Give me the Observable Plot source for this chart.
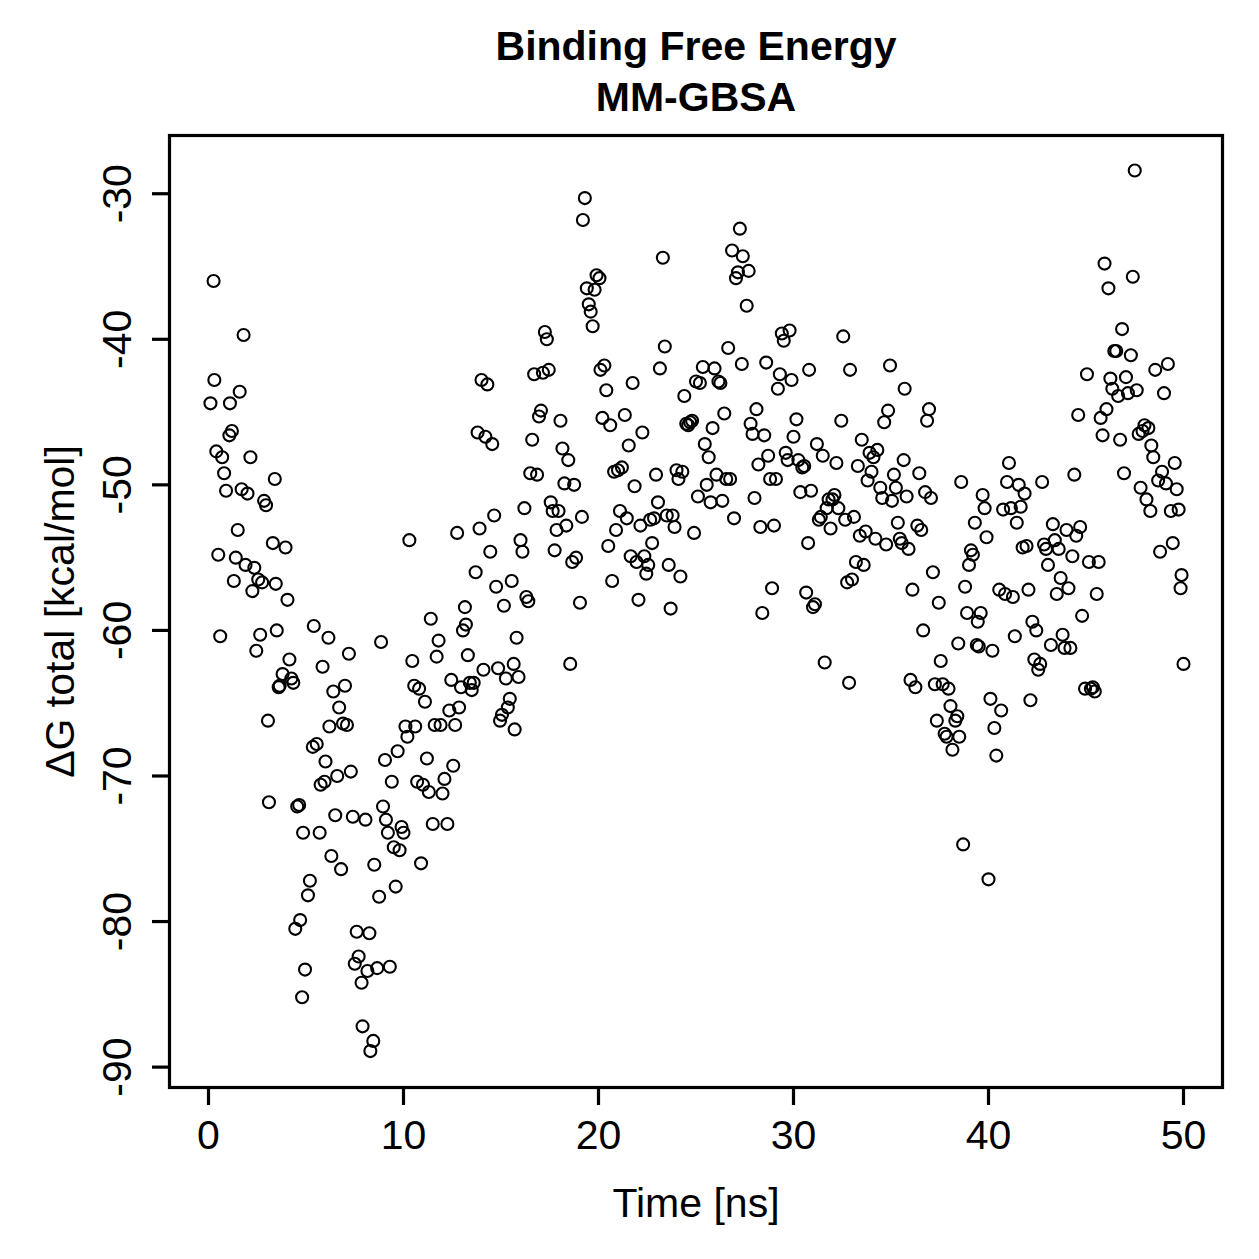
<!DOCTYPE html>
<html>
<head>
<meta charset="utf-8">
<script src="https://cdn.jsdelivr.net/npm/d3@7"></script>
<script src="https://cdn.jsdelivr.net/npm/@observablehq/plot@0.6"></script>
<style>
  html, body { margin: 0; padding: 0; background: #fff; }
  #chart { width: 1259px; height: 1259px; }
</style>
</head>
<body>
<div id="chart"></div>
<script>
// MM-GBSA binding free energy over a 50 ns trajectory (one frame every ~0.1 ns)
const timeNs = [
  0.1,0.26,0.3,0.4,0.5,0.6,0.7,0.8,0.9,1.07,1.1,1.2,1.3,1.4,1.5,1.6,1.7,1.8,1.9,2.0,2.15,2.25,2.35,2.45,2.55,2.65,2.75,2.85,2.95,3.05,3.1,3.3,3.4,3.45,3.5,3.6,3.65,3.8,3.95,4.05,4.15,4.25,4.35,4.45,4.55,4.65,4.7,4.8,4.85,4.95,5.1,5.2,
  5.35,5.4,5.55,5.7,5.75,5.85,5.95,6.0,6.15,6.2,6.3,6.4,6.5,6.6,6.7,6.8,6.9,7.0,7.1,7.2,7.3,7.4,7.5,7.6,7.7,7.85,7.9,8.05,8.15,8.25,8.3,8.45,8.5,8.65,8.75,8.85,8.95,9.05,9.1,9.2,9.3,9.4,9.5,9.6,9.7,9.8,9.9,10.0,
  10.1,10.2,10.3,10.45,10.55,10.6,10.7,10.8,10.9,11.0,11.1,11.2,11.3,11.4,11.5,11.6,11.7,11.8,11.9,12.0,12.1,12.25,12.35,12.45,12.55,12.65,12.75,12.85,12.95,13.05,13.15,13.2,13.3,13.4,13.5,13.6,13.7,13.8,13.9,14.0,14.1,14.2,14.3,14.45,14.55,14.65,14.75,14.85,14.95,15.05,
  15.15,15.25,15.35,15.45,15.55,15.65,15.7,15.8,15.9,16.0,16.1,16.2,16.3,16.4,16.5,16.6,16.7,16.85,16.95,17.05,17.15,17.25,17.35,17.45,17.55,17.65,17.75,17.85,17.95,18.05,18.15,18.25,18.35,18.45,18.55,18.65,18.75,18.85,19.05,19.15,19.2,19.3,19.4,19.5,19.6,19.7,19.8,19.9,20.05,
  20.1,20.2,20.3,20.4,20.5,20.6,20.7,20.8,20.9,21.0,21.1,21.2,21.35,21.45,21.55,21.65,21.75,21.85,21.95,22.05,22.15,22.25,22.35,22.45,22.55,22.65,22.75,22.85,22.95,23.05,23.15,23.3,23.4,23.5,23.6,23.7,23.8,23.9,24.0,24.1,24.2,24.3,24.4,24.5,24.6,24.7,24.8,24.9,25.0,
  25.1,25.2,25.35,25.45,25.55,25.65,25.75,25.85,25.95,26.05,26.15,26.25,26.35,26.45,26.55,26.65,26.75,26.85,26.95,27.05,27.15,27.25,27.35,27.4,27.6,27.7,27.8,27.9,28.0,28.1,28.2,28.3,28.4,28.5,28.6,28.7,28.8,28.9,29.0,29.1,29.2,29.3,29.4,29.5,29.6,29.7,29.8,29.9,30.0,
  30.15,30.25,30.35,30.45,30.55,30.65,30.75,30.8,30.9,31.0,31.1,31.2,31.3,31.4,31.5,31.6,31.7,31.8,31.9,32.0,32.1,32.2,32.3,32.45,32.55,32.65,32.75,32.85,32.9,33.0,33.1,33.2,33.3,33.4,33.5,33.6,33.7,33.8,33.9,34.0,34.1,34.2,34.3,34.45,34.55,34.65,34.75,34.85,34.95,
  35.05,35.15,35.25,35.35,35.45,35.55,35.65,35.7,35.8,35.9,36.0,36.1,36.25,36.35,36.45,36.55,36.65,36.75,36.85,36.95,37.05,37.15,37.25,37.35,37.45,37.55,37.65,37.75,37.85,37.95,38.05,38.15,38.3,38.4,38.45,38.5,38.6,38.7,38.8,38.9,39.0,39.1,39.2,39.3,39.4,39.45,39.5,39.6,39.7,39.8,39.9,40.0,
  40.1,40.2,40.3,40.4,40.55,40.65,40.75,40.85,40.95,41.05,41.15,41.25,41.35,41.45,41.55,41.65,41.75,41.85,41.95,42.05,42.15,42.25,42.35,42.45,42.55,42.65,42.75,42.85,42.95,43.05,43.2,43.3,43.4,43.5,43.6,43.7,43.8,43.9,44.0,44.1,44.2,44.3,44.4,44.5,44.6,44.7,44.8,44.95,45.05,
  45.15,45.25,45.35,45.45,45.55,45.65,45.75,45.85,45.95,46.05,46.15,46.25,46.35,46.45,46.55,46.65,46.75,46.85,46.95,47.05,47.15,47.3,47.4,47.5,47.6,47.7,47.8,47.9,48.0,48.1,48.2,48.3,48.35,48.45,48.55,48.7,48.8,48.9,49.0,49.1,49.2,49.35,49.45,49.55,49.65,49.75,49.85,49.9,50.0
];

const deltaG = [
  -44.4,-36.0,-42.8,-47.7,-54.8,-60.4,-48.1,-49.2,-50.4,-46.6,-44.4,-46.3,-56.6,-55.0,-53.1,-43.6,-50.3,-39.7,-55.5,-50.6,-48.1,-57.3,-55.7,-61.4,-56.5,-60.3,-56.7,-51.1,-51.4,-66.2,-71.8,-54.0,-49.6,-56.8,-60.0,-63.9,-63.8,-63.0,-54.3,-57.9,-62.0,-63.3,-63.6,-80.5,-72.1,-72.0,-79.9,-85.2,-73.9,-83.3,-78.2,-77.2,
  -68.0,-59.7,-67.8,-73.9,-70.6,-62.5,-70.4,-69.0,-60.5,-66.6,-75.5,-64.2,-72.7,-70.0,-65.3,-76.4,-66.4,-63.8,-66.5,-61.6,-69.7,-72.8,-82.9,-80.7,-82.4,-84.2,-87.2,-73.0,-83.4,-80.8,-88.9,-88.2,-76.1,-83.2,-78.3,-60.8,-72.1,-68.9,-73.0,-73.9,-83.1,-70.4,-74.9,-77.6,-68.3,-75.1,-73.5,-73.9,
  -66.6,-67.3,-53.8,-62.1,-63.8,-66.6,-70.4,-64.0,-76.0,-70.6,-64.9,-68.8,-71.1,-59.2,-73.3,-66.5,-61.8,-60.7,-66.5,-71.2,-70.2,-73.3,-65.5,-63.4,-69.3,-66.5,-53.3,-65.3,-63.9,-60.0,-58.4,-59.6,-61.7,-63.6,-64.1,-63.6,-56.0,-46.4,-53.0,-42.8,-62.7,-46.7,-43.1,-54.6,-47.2,-52.1,-57.0,-62.6,-66.2,-65.8,
  -58.3,-63.3,-65.3,-64.7,-56.6,-62.3,-66.8,-60.5,-63.2,-53.8,-54.6,-51.6,-57.7,-58.0,-49.2,-46.9,-42.4,-49.3,-45.3,-44.9,-42.3,-39.5,-40.0,-42.1,-51.2,-51.8,-54.5,-53.1,-51.8,-45.6,-47.5,-49.9,-52.8,-48.3,-62.3,-55.3,-50.0,-55.0,-58.1,-52.2,-31.8,-30.3,-36.5,-37.6,-38.1,-39.1,-36.6,-35.6,-35.8,
  -42.1,-45.4,-41.8,-43.5,-54.2,-45.9,-56.6,-49.1,-53.1,-49.0,-51.8,-48.8,-45.2,-52.3,-47.3,-54.9,-43.0,-50.1,-55.3,-57.9,-52.8,-46.4,-54.9,-56.1,-55.5,-52.4,-54.0,-52.3,-49.3,-51.2,-42.0,-34.4,-40.5,-52.1,-55.5,-58.5,-52.1,-52.9,-49.0,-49.6,-56.3,-49.1,-43.9,-45.8,-45.9,-45.7,-45.6,-53.3,-42.9,
  -50.8,-43.0,-41.9,-47.2,-50.0,-48.1,-51.2,-46.1,-42.0,-49.3,-42.9,-43.0,-51.1,-45.1,-49.6,-40.6,-49.6,-33.9,-52.3,-35.8,-35.4,-32.4,-41.7,-34.3,-37.7,-35.3,-45.8,-46.5,-50.9,-44.8,-48.6,-52.9,-58.8,-46.6,-41.6,-48.0,-49.6,-57.1,-52.8,-49.6,-43.4,-42.4,-39.6,-40.1,-47.8,-48.3,-39.4,-42.8,-46.7,
  -45.5,-48.3,-50.5,-48.8,-48.7,-57.4,-54.0,-42.1,-50.4,-58.4,-58.2,-47.2,-52.4,-52.2,-48.0,-62.2,-51.6,-51.0,-53.0,-51.0,-50.7,-48.5,-51.6,-45.6,-39.8,-52.4,-56.7,-63.6,-42.1,-56.5,-52.2,-55.3,-48.7,-53.5,-46.9,-55.5,-53.2,-49.7,-47.8,-49.1,-48.1,-53.7,-47.6,-50.2,-50.9,-45.7,-54.1,-44.9,-41.8,
  -51.1,-49.3,-50.2,-52.6,-53.7,-54.0,-48.3,-43.4,-50.8,-54.4,-63.4,-57.2,-63.9,-52.8,-49.2,-53.1,-60.0,-50.5,-45.6,-44.8,-50.9,-56.0,-63.7,-66.2,-58.1,-62.1,-63.7,-67.1,-67.3,-64.0,-65.2,-68.2,-66.2,-65.9,-60.9,-67.3,-49.8,-74.7,-57.0,-58.8,-55.5,-54.5,-54.8,-52.6,-61.0,-59.4,-61.1,-58.8,-50.7,-51.6,-53.6,-77.1,
  -64.7,-61.4,-66.7,-68.6,-57.2,-65.5,-51.7,-57.5,-49.8,-48.5,-51.6,-57.7,-60.4,-52.6,-50.0,-51.5,-54.3,-50.6,-54.2,-57.2,-64.8,-59.4,-62.0,-60.0,-62.7,-62.3,-49.8,-54.1,-54.4,-55.5,-61.0,-52.7,-53.8,-57.5,-54.4,-56.4,-60.3,-61.2,-53.1,-57.1,-61.2,-54.9,-49.3,-53.5,-45.2,-52.9,-59.0,-64.0,-42.4,
  -55.3,-64.0,-63.9,-64.2,-57.5,-55.3,-45.4,-46.6,-34.8,-44.8,-36.5,-42.7,-43.4,-40.8,-40.8,-43.9,-46.9,-39.3,-49.2,-42.6,-43.7,-41.1,-35.7,-28.4,-43.5,-46.5,-50.2,-46.3,-45.9,-51.0,-46.1,-51.8,-47.3,-48.1,-42.1,-49.7,-54.6,-49.1,-43.7,-49.9,-41.7,-51.8,-54.0,-48.5,-50.3,-51.7,-57.1,-56.2,-62.3
];

const xTicks = [0, 10, 20, 30, 40, 50];
const yTicks = [-30, -40, -50, -60, -70, -80, -90];

const titleLines = ["Binding Free Energy", "MM-GBSA"];
const xLabel = "Time [ns]";
const yLabel = "\u0394G total [kcal/mol]";

const font = "'Liberation Sans', Arial, Helvetica, sans-serif";

const chart = Plot.plot({
  width: 1259,
  height: 1259,
  marginLeft: 169,
  marginRight: 37,
  marginTop: 135,
  marginBottom: 172,
  style: { fontFamily: font, background: "#fff", color: "#000" },
  x: { domain: [-2, 52] },
  y: { domain: [-91.4, -26] },
  marks: [
    Plot.frame({ stroke: "#000", strokeWidth: 3.2 }),
    Plot.axisX({
      ticks: xTicks, tickSize: 18, tickPadding: 14, strokeWidth: 3.2,
      fontSize: 41, label: null, tickFormat: d => String(d)
    }),
    Plot.axisY({
      ticks: yTicks, tickSize: 17, tickPadding: 22, strokeWidth: 3.2,
      tickRotate: -90, textAnchor: "middle", lineAnchor: "bottom",
      fontSize: 41, label: null, tickFormat: d => String(d)
    }),
    Plot.dot(timeNs, {
      x: timeNs, y: deltaG, r: 6,
      stroke: "#000", strokeWidth: 2.1, fill: "none"
    }),
    Plot.text([titleLines[0]], {
      text: d => d, frameAnchor: "top", dy: -76, lineAnchor: "bottom",
      fontSize: 41, fontWeight: "bold"
    }),
    Plot.text([titleLines[1]], {
      text: d => d, frameAnchor: "top", dy: -25, lineAnchor: "bottom",
      fontSize: 41, fontWeight: "bold"
    }),
    Plot.text([xLabel], {
      text: d => d, frameAnchor: "bottom", dy: 129, lineAnchor: "bottom",
      fontSize: 41
    }),
    Plot.text([yLabel], {
      text: d => d, frameAnchor: "left", dx: -96, rotate: -90,
      textAnchor: "middle", lineAnchor: "bottom", fontSize: 41
    })
  ]
});

document.getElementById("chart").appendChild(chart);
</script>
</body>
</html>
